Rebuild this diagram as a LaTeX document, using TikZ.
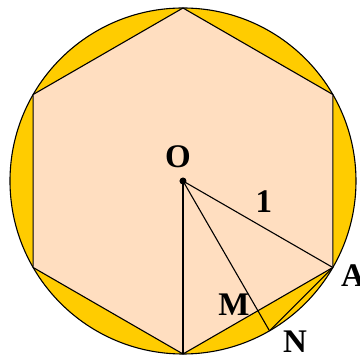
\documentclass[tikz,border=0pt]{standalone}
\usepackage{fontspec}
\setmainfont{Liberation Serif}
\definecolor{gold}{HTML}{FFCC00}
\definecolor{peach}{HTML}{FFDEC0}
\begin{document}
\begin{tikzpicture}[x=1pt,y=1pt,line width=1.1pt,
  lbl/.style={font=\fontsize{33}{33}\selectfont\bfseries, inner sep=0pt, text=black}]
\useasboundingbox (-183,-177) rectangle (177,181);
\fill[white] (-183,-177) rectangle (177,181);
\def\R{173}
\coordinate (O) at (0,0);
\foreach \a/\n in {90/P1,30/P2,-30/A,-90/B,-150/P5,150/P6} \coordinate (\n) at (\a:\R);
\coordinate (N) at (-60:\R);
\coordinate (M) at (-60:{\R*cos(30)});
\draw[fill=gold] (O) circle (\R);
\draw[fill=peach] (P1)--(P2)--(A)--(B)--(P5)--(P6)--cycle;
\draw (O)--(B);
\draw (O)--(A);
\draw (O)--(N);
\draw (A)--(N);
\fill (O) circle (3.5);
\node[lbl] (lO) at (-5,24) {O};
\node[lbl] (l1) at (81,-21) {1};
\node[lbl] (lA) at (170,-95) {A};
\node[lbl] (lM) at (51,-124) {M};
\node[lbl] (lN) at (112,-161) {N};
\end{tikzpicture}
\end{document}
